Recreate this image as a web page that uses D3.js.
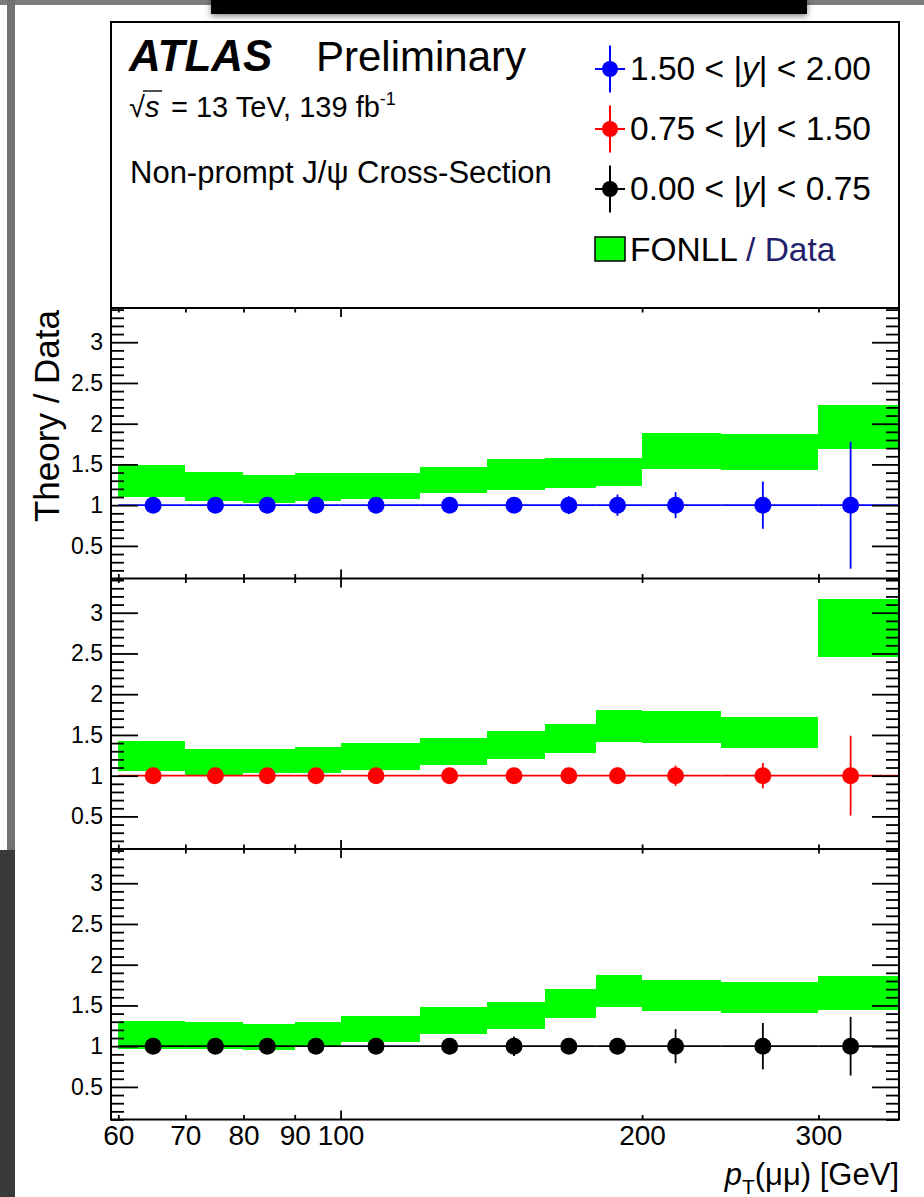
<!DOCTYPE html>
<html>
<head>
<meta charset="UTF-8">
<title>Non-prompt J/psi FONLL / Data</title>
<style>
body { margin: 0; background: #fff; }
text { font-family: "Liberation Sans", Arial, Helvetica, sans-serif; }
</style>
</head>
<body>
<script src="https://d3js.org/d3.v7.min.js"></script>
<script>
var width = 924, height = 1197;

// pT bins [GeV] and mean pT of each bin
var binEdges = [60, 70, 80, 90, 100, 120, 140, 160, 180, 200, 240, 300, 360];
var ptMean = [65, 75, 84.5, 94.5, 108.5, 128.5, 149, 169, 189, 216, 264, 323];
// data / data
var dataRatio = [1, 1, 1, 1, 1, 1, 1, 1, 1, 1, 1, 1];

// 1.50 < |y| < 2.00
var fonllLo1 = [1.10, 1.05, 1.03, 1.05, 1.08, 1.15, 1.19, 1.21, 1.23, 1.45, 1.43, 1.69];
var fonllHi1 = [1.49, 1.41, 1.37, 1.40, 1.40, 1.47, 1.57, 1.58, 1.58, 1.88, 1.87, 2.23];
var dataErr1 = [0.03, 0.03, 0.03, 0.04, 0.04, 0.05, 0.07, 0.11, 0.13, 0.16, 0.29, 0.78];
// 0.75 < |y| < 1.50
var fonllLo2 = [1.06, 1.01, 1.03, 1.03, 1.07, 1.135, 1.21, 1.28, 1.41, 1.40, 1.34, 2.46];
var fonllHi2 = [1.42, 1.33, 1.33, 1.35, 1.40, 1.46, 1.55, 1.63, 1.80, 1.79, 1.72, 3.17];
var dataErr2 = [0.03, 0.03, 0.03, 0.03, 0.04, 0.04, 0.05, 0.06, 0.10, 0.125, 0.155, 0.49];
// 0.00 < |y| < 0.75
var fonllLo3 = [0.97, 0.97, 0.955, 0.99, 1.05, 1.15, 1.21, 1.34, 1.48, 1.43, 1.41, 1.45];
var fonllHi3 = [1.31, 1.30, 1.27, 1.30, 1.365, 1.475, 1.54, 1.70, 1.875, 1.81, 1.79, 1.86];
var dataErr3 = [0.03, 0.03, 0.03, 0.03, 0.04, 0.05, 0.12, 0.08, 0.08, 0.21, 0.285, 0.36];

var yMajor = [0.5, 1, 1.5, 2, 2.5, 3];
var xMinorTicks = [60, 70, 80, 90, 200, 300];
var xMajorTicks = [100];
var xLabels = [60, 70, 80, 90, 100, 200, 300];

var legendLabels = ["1.50 < |y| < 2.00", "0.75 < |y| < 1.50", "0.00 < |y| < 0.75"];
var colors = ["#0000ff", "#ff0000", "#000000"];

var panels = [
  {lo: fonllLo1, hi: fonllHi1, err: dataErr1, color: colors[0]},
  {lo: fonllLo2, hi: fonllHi2, err: dataErr2, color: colors[1]},
  {lo: fonllLo3, hi: fonllHi3, err: dataErr3, color: colors[2]}
];

var left = 111, right = 899, boxTop = 22;
var panelTop = [308, 578.5, 849], panelH = 270.5;

var svg = d3.select("body").append("svg")
  .attr("width", width)
  .attr("height", height);

// screenshot surroundings
svg.append("rect").attr("x", 0).attr("y", 0).attr("width", width).attr("height", 5).attr("fill", "#7c7c7c");
svg.append("rect").attr("x", 7).attr("y", 0).attr("width", 8).attr("height", 850).attr("fill", "#727272");
svg.append("rect").attr("x", 0).attr("y", 850).attr("width", 15).attr("height", height - 850).attr("fill", "#3a3a3a");
var defs = svg.append("defs");
defs.append("filter").attr("id", "shadow").attr("x", "-5%").attr("y", "-50%").attr("width", "110%").attr("height", "200%")
  .append("feDropShadow").attr("dx", 0).attr("dy", 2).attr("stdDeviation", 3).attr("flood-color", "#000").attr("flood-opacity", 0.5);
svg.append("rect").attr("x", 211).attr("y", -4).attr("width", 596).attr("height", 18)
  .attr("fill", "#000").attr("filter", "url(#shadow)");

var x = d3.scaleLog().domain([59, 361]).range([left, right]);

var pThick = 1.8;

panels.forEach(function(p, k) {
  var top = panelTop[k], bottom = top + panelH;
  var y = d3.scaleLinear().domain([0.1, 3.42]).range([bottom, top]);
  var g = svg.append("g");

  // FONLL band
  g.selectAll(".band").data(p.lo).enter().append("rect")
    .attr("shape-rendering", "crispEdges")
    .attr("fill", "#00ff00")
    .attr("x", function(d, i) { return x(binEdges[i]); })
    .attr("width", function(d, i) { return x(binEdges[i + 1]) - x(binEdges[i]); })
    .attr("y", function(d, i) { return y(p.hi[i]); })
    .attr("height", function(d, i) { return y(d) - y(p.hi[i]); });

  // x error bars (bin widths)
  g.selectAll(".xerr").data(dataRatio).enter().append("line")
    .attr("stroke", p.color).attr("stroke-width", 1.6)
    .attr("x1", function(d, i) { return x(binEdges[i]); })
    .attr("x2", function(d, i) { return x(binEdges[i + 1]); })
    .attr("y1", function(d) { return y(d); })
    .attr("y2", function(d) { return y(d); });

  // y error bars
  g.selectAll(".yerr").data(dataRatio).enter().append("line")
    .attr("stroke", p.color).attr("stroke-width", 1.8)
    .attr("x1", function(d, i) { return x(ptMean[i]); })
    .attr("x2", function(d, i) { return x(ptMean[i]); })
    .attr("y1", function(d, i) { return y(d + p.err[i]); })
    .attr("y2", function(d, i) { return y(d - p.err[i]); });

  // markers
  g.selectAll(".pt").data(dataRatio).enter().append("circle")
    .attr("fill", p.color)
    .attr("r", 8.5)
    .attr("cx", function(d, i) { return x(ptMean[i]); })
    .attr("cy", function(d) { return y(d); });

  // y axes, ticks pointing inward
  var yMinor = d3.range(1, 35).map(function(v) { return v / 10; })
    .filter(function(v) { return Math.round(v * 10) % 5 !== 0; });
  var leftMaj = g.append("g").attr("transform", "translate(" + left + ",0)")
    .call(d3.axisLeft(y).tickValues(yMajor).tickSize(-27).tickPadding(8).tickFormat(d3.format("~g")));
  var leftMin = g.append("g").attr("transform", "translate(" + left + ",0)")
    .call(d3.axisLeft(y).tickValues(yMinor).tickSize(-13).tickFormat(""));
  var rightMaj = g.append("g").attr("transform", "translate(" + right + ",0)")
    .call(d3.axisRight(y).tickValues(yMajor).tickSize(-27).tickFormat(""));
  var rightMin = g.append("g").attr("transform", "translate(" + right + ",0)")
    .call(d3.axisRight(y).tickValues(yMinor).tickSize(-13).tickFormat(""));

  // x ticks on top and bottom of each pad
  var xb1 = g.append("g").attr("transform", "translate(0," + bottom + ")")
    .call(d3.axisBottom(x).tickValues(xMinorTicks).tickSize(-4.5).tickFormat(""));
  var xb2 = g.append("g").attr("transform", "translate(0," + bottom + ")")
    .call(d3.axisBottom(x).tickValues(xMajorTicks).tickSize(-9).tickFormat(""));
  var xt1 = g.append("g").attr("transform", "translate(0," + top + ")")
    .call(d3.axisTop(x).tickValues(xMinorTicks).tickSize(-4.5).tickFormat(""));
  var xt2 = g.append("g").attr("transform", "translate(0," + top + ")")
    .call(d3.axisTop(x).tickValues(xMajorTicks).tickSize(-9).tickFormat(""));

  [leftMaj, leftMin, rightMaj, rightMin, xb1, xb2, xt1, xt2].forEach(function(a) {
    a.select(".domain").remove();
    a.selectAll(".tick line").attr("stroke", "#000").attr("stroke-width", pThick);
  });
  leftMaj.selectAll(".tick text")
    .style("font-family", "'Liberation Sans', Arial, sans-serif")
    .attr("font-size", 23).attr("fill", "#000");

  if (k === 2) {
    var xl = g.append("g").attr("transform", "translate(0," + bottom + ")")
      .call(d3.axisBottom(x).tickValues(xLabels).tickSize(0).tickPadding(6).tickFormat(d3.format("d")));
    xl.select(".domain").remove();
    xl.selectAll(".tick text")
      .style("font-family", "'Liberation Sans', Arial, sans-serif")
      .attr("font-size", 28).attr("fill", "#000");
  }
});

// frames
svg.append("rect").attr("x", left).attr("y", boxTop).attr("width", right - left)
  .attr("height", panelTop[2] + panelH - boxTop)
  .attr("fill", "none").attr("stroke", "#000").attr("stroke-width", 2);
panelTop.forEach(function(t) {
  svg.append("line").attr("x1", left).attr("x2", right).attr("y1", t).attr("y2", t)
    .attr("stroke", "#000").attr("stroke-width", 2);
});

// ATLAS label
svg.append("text").attr("x", 129).attr("y", 71)
  .attr("font-size", 44).attr("font-weight", "bold").attr("font-style", "italic")
  .text("ATLAS");
svg.append("text").attr("x", 316).attr("y", 71).attr("font-size", 42).text("Preliminary");

// sqrt(s) line
svg.append("text").attr("x", 129).attr("y", 117).attr("font-size", 29).text("\u221A");
svg.append("text").attr("x", 145).attr("y", 117).attr("font-size", 29).attr("font-style", "italic").text("s");
svg.append("line").attr("x1", 143).attr("x2", 162).attr("y1", 91).attr("y2", 91)
  .attr("stroke", "#000").attr("stroke-width", 1.4);
var lumi = svg.append("text").attr("x", 171).attr("y", 117).attr("font-size", 29);
lumi.append("tspan").text("= 13 TeV, 139 fb");
lumi.append("tspan").attr("font-size", 18).attr("dy", -12).text("-1");

svg.append("text").attr("x", 130).attr("y", 183).attr("font-size", 31)
  .text("Non-prompt J/\u03C8 Cross-Section");

// legend
var legY = [69, 129, 189];
legY.forEach(function(ly, i) {
  var c = colors[i];
  svg.append("line").attr("x1", 610).attr("x2", 610).attr("y1", ly - 23.5).attr("y2", ly + 23.5)
    .attr("stroke", c).attr("stroke-width", 2);
  svg.append("line").attr("x1", 595).attr("x2", 625).attr("y1", ly).attr("y2", ly)
    .attr("stroke", c).attr("stroke-width", 2);
  svg.append("circle").attr("cx", 610).attr("cy", ly).attr("r", 8).attr("fill", c);
  var parts = legendLabels[i].split("y");
  var t = svg.append("text").attr("x", 630).attr("y", ly + 11).attr("font-size", 33.5);
  t.append("tspan").text(parts[0]);
  t.append("tspan").attr("font-style", "italic").text("y");
  t.append("tspan").text(parts[1]);
});
svg.append("rect").attr("x", 595).attr("y", 237).attr("width", 30).attr("height", 24)
  .attr("fill", "#00ff00").attr("stroke", "#000").attr("stroke-width", 1.5);
var fl = svg.append("text").attr("x", 630).attr("y", 261).attr("font-size", 33.5);
fl.append("tspan").text("FONLL ");
fl.append("tspan").attr("fill", "#231f6b").text("/ Data");

// axis titles
svg.append("text").attr("transform", "translate(59,416) rotate(-90)")
  .attr("text-anchor", "middle").attr("font-size", 35).text("Theory / Data");

var xt = svg.append("text").attr("x", right).attr("y", 1185).attr("text-anchor", "end").attr("font-size", 31);
xt.append("tspan").attr("font-style", "italic").text("p");
xt.append("tspan").attr("font-size", 21).attr("dy", 9).text("T");
xt.append("tspan").attr("dy", -9).text("(\u03BC\u03BC) [GeV]");
</script>
</body>
</html>
